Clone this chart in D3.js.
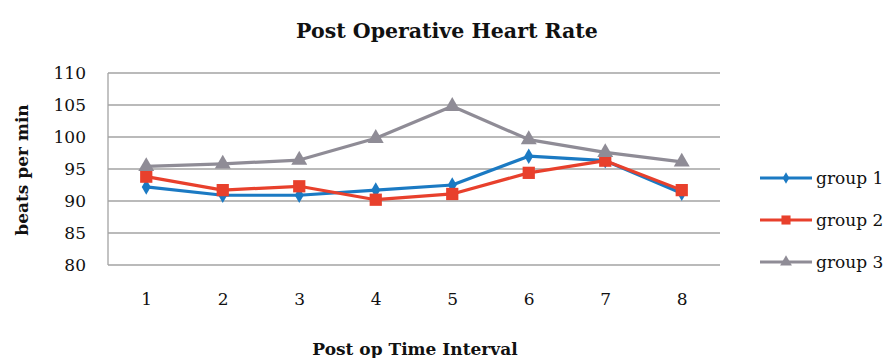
<!DOCTYPE html>
<html>
<head>
<meta charset="utf-8">
<script src="https://cdn.jsdelivr.net/npm/d3@7"></script>
<style>
  body { margin: 0; background: #fff; }
  text { font-family: "DejaVu Serif", serif; fill: #111; }
</style>
</head>
<body>
<script>
var width = 891, height = 358;
var margin = {top: 73, bottom: 93, left: 108, right: 171};

// Data
var intervals = ["1", "2", "3", "4", "5", "6", "7", "8"];
var group1 = [92.2, 90.9, 90.9, 91.7, 92.5, 97.0, 96.3, 91.2];
var group2 = [93.8, 91.7, 92.3, 90.2, 91.1, 94.4, 96.3, 91.7];
var group3 = [95.4, 95.8, 96.4, 99.8, 104.8, 99.6, 97.6, 96.1];
var seriesNames = ["group 1", "group 2", "group 3"];
var yTicks = [80, 85, 90, 95, 100, 105, 110];

var series = [
  {name: seriesNames[0], values: group1, color: "#1b7ac3", symbol: d3.symbolDiamond, size: 70},
  {name: seriesNames[1], values: group2, color: "#e8402c", symbol: d3.symbolSquare, size: 150},
  {name: seriesNames[2], values: group3, color: "#8f8c96", symbol: d3.symbolTriangle, size: 110}
];

var svg = d3.select("body").append("svg")
    .attr("width", width)
    .attr("height", height);

var x = d3.scalePoint()
    .domain(intervals)
    .range([margin.left, width - margin.right])
    .padding(0.5);

var y = d3.scaleLinear()
    .domain([80, 110])
    .range([height - margin.bottom, margin.top]);

//Gridlines
svg.append("g")
    .selectAll("line")
    .data(yTicks)
    .enter()
    .append("line")
    .attr("x1", margin.left)
    .attr("x2", width - margin.right)
    .attr("y1", function(d) { return y(d); })
    .attr("y2", function(d) { return y(d); })
    .attr("stroke", "#a3a3a3")
    .attr("stroke-width", 1.3);

//Left axis line
svg.append("line")
    .attr("x1", margin.left).attr("x2", margin.left)
    .attr("y1", y(80)).attr("y2", y(110))
    .attr("stroke", "#a3a3a3")
    .attr("stroke-width", 1.3);

//Y axis labels
var yAxis = d3.axisLeft(y).tickValues(yTicks).tickSize(0).tickPadding(22);
var gy = svg.append("g")
    .attr("transform", "translate(" + margin.left + ",0)")
    .call(yAxis);
gy.select(".domain").remove();
gy.attr("font-family", null).attr("font-size", null);
gy.selectAll("text")
    .style("font-size", "17px")
    .attr("fill", "#111");

//X axis labels
var xAxis = d3.axisBottom(x).tickSize(0).tickPadding(28);
var gx = svg.append("g")
    .attr("transform", "translate(0," + y(80) + ")")
    .call(xAxis);
gx.select(".domain").remove();
gx.attr("font-family", null).attr("font-size", null);
gx.selectAll("text")
    .style("font-size", "17px")
    .attr("fill", "#111");

//Lines + markers
var line = d3.line()
    .x(function(d, i) { return x(intervals[i]); })
    .y(function(d) { return y(d); });

series.forEach(function(s) {
  svg.append("path")
      .datum(s.values)
      .attr("d", line)
      .attr("fill", "none")
      .attr("stroke", s.color)
      .attr("stroke-width", 3.2)
      .attr("stroke-linejoin", "round");

  svg.append("g")
      .selectAll("path")
      .data(s.values)
      .enter()
      .append("path")
      .attr("d", d3.symbol().type(s.symbol).size(s.size))
      .attr("transform", function(d, i) {
        return "translate(" + x(intervals[i]) + "," + y(d) + ")";
      })
      .attr("fill", s.color);
});

//Legend
var legend = svg.append("g")
    .selectAll("g")
    .data(series)
    .enter()
    .append("g")
    .attr("transform", function(d, i) { return "translate(760," + (178 + i * 42) + ")"; });

legend.append("line")
    .attr("x1", 0).attr("x2", 52)
    .attr("stroke", function(d) { return d.color; })
    .attr("stroke-width", 3.2);

legend.append("path")
    .attr("d", function(d) { return d3.symbol().type(d.symbol).size(d.size * 0.55)(); })
    .attr("transform", "translate(26,0)")
    .attr("fill", function(d) { return d.color; });

legend.append("text")
    .attr("x", 56)
    .attr("dy", "0.35em")
    .style("font-size", "17px")
    .text(function(d) { return d.name; });

//Title
svg.append("text")
    .attr("x", 447)
    .attr("y", 38)
    .attr("text-anchor", "middle")
    .style("font-size", "20.5px")
    .style("font-weight", "bold")
    .text("Post Operative Heart Rate");

//Y axis title
svg.append("text")
    .attr("transform", "translate(28," + 170 + ") rotate(-90)")
    .attr("text-anchor", "middle")
    .style("font-size", "17px")
    .style("font-weight", "bold")
    .text("beats per min");

//X axis title
svg.append("text")
    .attr("x", 415)
    .attr("y", 355)
    .attr("text-anchor", "middle")
    .style("font-size", "17px")
    .style("font-weight", "bold")
    .text("Post op Time Interval");
</script>
</body>
</html>
